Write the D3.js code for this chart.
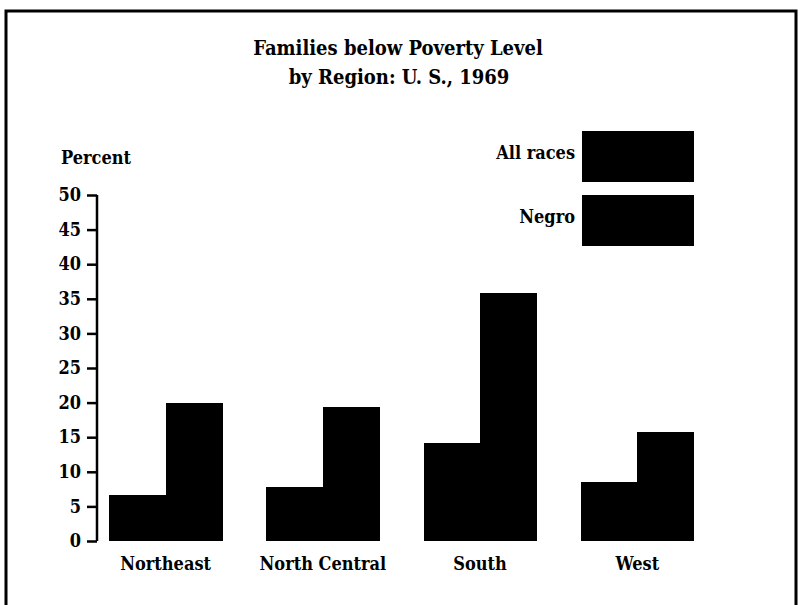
<!DOCTYPE html>
<html>
<head>
<meta charset="utf-8">
<script src="https://cdn.jsdelivr.net/npm/d3@7"></script>
<style>
  body { margin: 0; background: #fff; }
  text { font-family: "DejaVu Serif Condensed", "DejaVu Serif", serif; font-weight: bold; fill: #000; }
</style>
</head>
<body>
<svg id="chart"></svg>
<script>
// values
var regions = ["Northeast", "North Central", "South", "West"];
var series = ["All races", "Negro"];
var allRaces = [6.6, 7.8, 14.2, 8.5];
var negro = [20.0, 19.3, 35.8, 15.8];
var yTicks = [0, 5, 10, 15, 20, 25, 30, 35, 40, 45, 50];

var W = 802, H = 605;
var svg = d3.select("#chart").attr("width", W).attr("height", H);

svg.append("rect").attr("width", W).attr("height", H).attr("fill", "#fff");

// frame round the figure (runs off the bottom of the page)
svg.append("path")
    .attr("d", "M6,640 L6,11 L796,11 L796,640")
    .attr("fill", "none")
    .attr("stroke", "#000")
    .attr("stroke-width", 3);

// title
svg.append("text").attr("x", 398).attr("y", 55).attr("text-anchor", "middle")
    .style("font-size", "20px").text("Families below Poverty Level");
svg.append("text").attr("x", 399).attr("y", 84).attr("text-anchor", "middle")
    .style("font-size", "20px").text("by Region: U. S., 1969");

svg.append("text").attr("x", 61).attr("y", 164)
    .style("font-size", "18px").text("Percent");

var x = d3.scaleBand()
    .domain(regions)
    .range([87, 716])
    .paddingInner(0.28)
    .paddingOuter(0.14);
var x1 = d3.scaleBand().domain(series).range([0, x.bandwidth()]);
var y = d3.scaleLinear().domain([0, 50]).range([541, 195]);

// y axis
var gY = svg.append("g")
    .attr("transform", "translate(97,0)")
    .call(d3.axisLeft(y).tickValues(yTicks).tickSize(10).tickSizeOuter(0).tickPadding(6));
gY.select(".domain").attr("stroke-width", 2.5).attr("d", "M0," + y(0) + "V" + y(50));
gY.selectAll(".tick line").attr("stroke-width", 2.5);
gY.selectAll(".tick text")
    .style("font-family", "DejaVu Serif Condensed, DejaVu Serif, serif")
    .style("font-weight", "bold")
    .style("font-size", "18px")
    .attr("fill", "#000");

// bars
var rows = regions.map(function (r, i) {
    return [{ region: r, s: "All races", v: allRaces[i] }, { region: r, s: "Negro", v: negro[i] }];
});
svg.append("g").attr("shape-rendering", "crispEdges").selectAll("g")
    .data(rows)
    .join("g")
    .attr("transform", function (d) { return "translate(" + x(d[0].region) + ",0)"; })
    .selectAll("rect")
    .data(function (d) { return d; })
    .join("rect")
    .attr("x", function (d) { return x1(d.s); })
    .attr("width", x1.bandwidth() + 0.5)
    .attr("y", function (d) { return y(d.v); })
    .attr("height", function (d) { return y(0) - y(d.v); })
    .attr("fill", "#000");

// region labels
svg.append("g").selectAll("text")
    .data(regions)
    .join("text")
    .attr("x", function (d) { return x(d) + x.bandwidth() / 2; })
    .attr("y", 570)
    .attr("text-anchor", "middle")
    .style("font-size", "18px")
    .text(function (d) { return d; });

// legend
var legendY = [131, 195];
series.forEach(function (s, i) {
    svg.append("rect")
        .attr("x", 582).attr("y", legendY[i])
        .attr("width", 112).attr("height", 51)
        .attr("fill", "#000");
    svg.append("text")
        .attr("x", 575).attr("y", legendY[i] + 28)
        .attr("text-anchor", "end")
        .style("font-size", "18px")
        .text(s);
});
</script>
</body>
</html>
